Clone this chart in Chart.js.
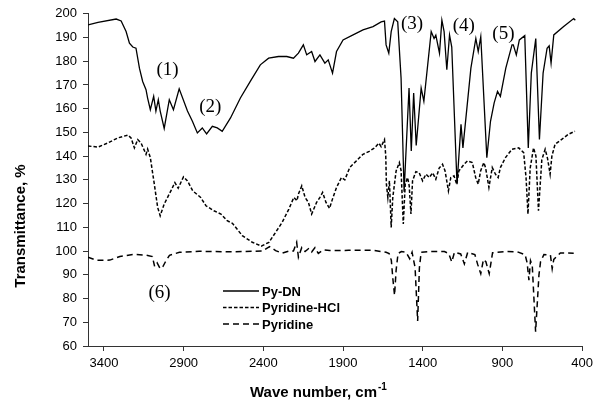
<!DOCTYPE html>
<html lang="en">
<head>
<meta charset="UTF-8" />
<title>IR spectra - Py-DN, Pyridine-HCl, Pyridine</title>
<script src="https://cdn.jsdelivr.net/npm/chart.js"></script>
<style>
  html, body { margin: 0; padding: 0; background: #fff; }
  #chart { display: block; }
</style>
</head>
<body>
<canvas id="chart" width="598" height="403"></canvas>
<script>
// wave numbers (cm-1) and transmittance (%)
const pyDnWn = [3500, 3437, 3323, 3292, 3261, 3240, 3219, 3199, 3177, 3157, 3136, 3126, 3109, 3088, 3074, 3059, 3047, 3022, 2990, 2964, 2928, 2876, 2845, 2814, 2783, 2756, 2720, 2689, 2658, 2606, 2544, 2482, 2419, 2367, 2305, 2253, 2211, 2180, 2149, 2128, 2097, 2076, 2045, 2014, 1993, 1966, 1941, 1900, 1837, 1775, 1712, 1661, 1640, 1630, 1613, 1598, 1578, 1557, 1536, 1517, 1486, 1472, 1457, 1441, 1410, 1393, 1347, 1329, 1318, 1295, 1280, 1266, 1249, 1232, 1218, 1185, 1160, 1148, 1098, 1067, 1052, 1036, 998, 975, 952, 931, 913, 879, 840, 832, 813, 794, 760, 738, 719, 691, 668, 645, 620, 607, 595, 578, 516, 453, 443];
const pyDnT = [195.3, 196.4, 197.8, 197, 192.5, 187.6, 186, 185.5, 177, 171.5, 168, 164.5, 159.6, 165.2, 159, 163.8, 159, 151.7, 163.8, 159.6, 168.4, 159, 154.7, 149.8, 151.9, 149.4, 152.6, 151.9, 150.5, 156.1, 164.5, 171.5, 178.5, 181.3, 182, 182, 181.3, 183.4, 186.9, 182.7, 184.1, 179.9, 182.7, 179.2, 180.6, 175, 184.1, 189, 191.1, 193.2, 194.6, 196.6, 196.9, 186.9, 183.4, 192.5, 198, 196.6, 172.9, 125, 168.7, 142.2, 166.6, 144.5, 168.7, 163.1, 192.5, 189.6, 191, 183.4, 197.3, 192.5, 176.4, 191.1, 186, 128.2, 153.4, 143.5, 177.1, 189.6, 184.1, 190.4, 139.4, 154.7, 162.5, 167.3, 165.2, 177.1, 186.9, 186.9, 182.7, 189, 190.8, 143.5, 175, 189.6, 147, 175, 185.5, 186.5, 179.2, 191.1, 194.6, 198, 197.3];

const hclWn = [3500, 3437, 3375, 3313, 3250, 3230, 3209, 3188, 3167, 3136, 3126, 3109, 3084, 3063, 3047, 3022, 2980, 2955, 2934, 2901, 2876, 2843, 2793, 2760, 2710, 2666, 2627, 2594, 2532, 2469, 2413, 2365, 2323, 2282, 2240, 2209, 2189, 2180, 2159, 2138, 2117, 2097, 2066, 2045, 2028, 2007, 1985, 1966, 1941, 1910, 1889, 1858, 1817, 1775, 1736, 1702, 1675, 1661, 1640, 1632, 1628, 1619, 1609, 1598, 1588, 1567, 1547, 1536, 1522, 1510, 1495, 1485, 1474, 1464, 1443, 1422, 1401, 1380, 1359, 1338, 1318, 1297, 1276, 1260, 1239, 1224, 1204, 1187, 1173, 1141, 1120, 1089, 1068, 1052, 1037, 1017, 1006, 985, 964, 944, 927, 913, 881, 840, 798, 767, 752, 740, 726, 705, 690, 674, 653, 632, 617, 601, 590, 570, 528, 487, 445];
const hclT = [144.3, 143.8, 145.6, 147.7, 148.9, 147.7, 143.5, 147, 145.5, 140.8, 143, 139.4, 128.2, 118.4, 114.9, 119.8, 125.4, 128.9, 126.5, 131.3, 129.6, 125.4, 122.6, 119.1, 117, 115.6, 112.8, 111.7, 106.5, 103.7, 102.1, 103.7, 107.9, 112.1, 117.7, 122.6, 121.2, 124, 127.5, 122.6, 120.5, 115.6, 120.5, 122.6, 124.7, 120.5, 118, 122, 126.8, 131, 130, 135.2, 138, 140.8, 142, 143.5, 145.5, 144, 147, 140, 128.2, 122.6, 129.6, 110, 122.6, 133.8, 137.3, 134, 111.4, 128.2, 131, 127.5, 115.6, 129.6, 133.5, 133, 129.6, 132.4, 131, 133, 130.3, 135, 136.6, 133.8, 125.4, 131, 131.7, 128.2, 133.8, 136.6, 138, 137.3, 131, 128.2, 133.8, 137.3, 135.2, 126.8, 135.2, 132.4, 131, 135.2, 139.4, 142.9, 143.5, 141.5, 131, 115.6, 135, 143.5, 140, 117, 138.5, 142.9, 139, 132.4, 140, 145, 147.1, 149.2, 150.5];

const pyWn = [3500, 3446, 3363, 3300, 3217, 3134, 3096, 3082, 3066, 3047, 3030, 3015, 2989, 2926, 2802, 2596, 2407, 2361, 2323, 2282, 2240, 2211, 2191, 2180, 2159, 2138, 2117, 2097, 2076, 2055, 2024, 1983, 1866, 1711, 1630, 1611, 1597, 1587, 1577, 1567, 1555, 1534, 1505, 1482, 1467, 1448, 1432, 1421, 1410, 1349, 1264, 1237, 1218, 1201, 1162, 1139, 1118, 1073, 1056, 1036, 1019, 1004, 983, 962, 869, 807, 758, 745, 734, 724, 713, 692, 671, 661, 640, 599, 588, 578, 537, 453];
const pyT = [97.4, 96.1, 96.2, 97.7, 98.6, 98.3, 97.7, 93.5, 95, 92.6, 93.5, 95.4, 98.2, 99.5, 99.9, 99.7, 100, 101.9, 100.2, 99.1, 100, 100, 103.7, 97.4, 101.5, 99.8, 101, 99.6, 101.5, 99, 100.5, 100.2, 100.3, 100.3, 99.5, 99, 96.1, 88, 81.4, 92, 99, 99.8, 99.5, 96.8, 99.5, 93, 70.5, 93, 99.5, 99.8, 99.8, 99, 95.4, 99.5, 98.8, 94.6, 99.5, 98.5, 94.5, 90.5, 96.5, 95.5, 90.5, 99.3, 99.8, 99.7, 98.5, 95, 87.7, 96, 94, 66, 90, 95.5, 98.5, 98.3, 92.6, 96.5, 99.2, 99.1];

const seriesNames = ['Py-DN', 'Pyridine-HCl', 'Pyridine'];
const xTickValues = [3400, 2900, 2400, 1900, 1400, 900, 400];

// band labels: text, wave number, transmittance of the label centre
const bandText = ['(1)', '(2)', '(3)', '(4)', '(5)', '(6)'];
const bandWn = [3001, 2733, 1467, 1143, 894, 3051];
const bandT = [176.1, 160.6, 195.8, 195, 191.6, 82.2];

const toPoints = (wn, t) => wn.map((x, i) => ({ x: x, y: t[i] }));

const SANS = '"Liberation Sans", Arial, sans-serif';
const SERIF = '"Liberation Serif", "Times New Roman", serif';

const overlay = {
  id: 'overlay',
  afterDraw(chart) {
    const ctx = chart.ctx;
    const xs = chart.scales.x, ys = chart.scales.y;
    ctx.save();
    ctx.fillStyle = '#000';

    // band labels
    ctx.font = '19px ' + SERIF;
    ctx.textAlign = 'center';
    ctx.textBaseline = 'middle';
    bandText.forEach((t, i) => {
      ctx.fillText(t, xs.getPixelForValue(bandWn[i]), ys.getPixelForValue(bandT[i]));
    });

    // legend
    ctx.font = 'bold 13px ' + SANS;
    ctx.textAlign = 'left';
    chart.data.datasets.forEach((ds, i) => {
      const y = 291 + i * 16.5;
      ctx.strokeStyle = ds.borderColor;
      ctx.lineWidth = ds.borderWidth;
      ctx.setLineDash(ds.borderDash || []);
      ctx.beginPath();
      ctx.moveTo(223, y);
      ctx.lineTo(259, y);
      ctx.stroke();
      ctx.fillText(ds.label, 262, y + 1);
    });
    ctx.setLineDash([]);

    // x title with superscript
    ctx.font = 'bold 15px ' + SANS;
    ctx.textBaseline = 'alphabetic';
    const main = 'Wave number, cm';
    ctx.fillText(main, 250, 397);
    const w = ctx.measureText(main).width;
    ctx.font = 'bold 10px ' + SANS;
    ctx.fillText('-1', 250 + w + 1, 390);

    // y title
    ctx.translate(21, 226);
    ctx.rotate(-Math.PI / 2);
    ctx.font = 'bold 15px ' + SANS;
    ctx.textAlign = 'center';
    ctx.textBaseline = 'middle';
    ctx.fillText('Transmittance, %', 0, 0);
    ctx.restore();
  }
};

new Chart(document.getElementById('chart'), {
  type: 'line',
  data: {
    datasets: [
      { label: seriesNames[0], data: toPoints(pyDnWn, pyDnT), borderColor: '#000', borderWidth: 1.3 },
      { label: seriesNames[1], data: toPoints(hclWn, hclT), borderColor: '#000', borderWidth: 1.5, borderDash: [3.5, 2] },
      { label: seriesNames[2], data: toPoints(pyWn, pyT), borderColor: '#000', borderWidth: 1.5, borderDash: [6, 4] }
    ]
  },
  options: {
    responsive: false,
    animation: false,
    elements: { point: { radius: 0 }, line: { tension: 0, fill: false } },
    layout: { padding: { top: 12, right: 12, left: 0, bottom: 0 } },
    plugins: { legend: { display: false }, tooltip: { enabled: false } },
    scales: {
      x: {
        type: 'linear',
        reverse: true,
        min: 400,
        max: 3500,
        afterBuildTicks: s => { s.ticks = xTickValues.map(v => ({ value: v })); },
        afterFit: s => { s.height = 57; },
        border: { color: '#333', width: 1 },
        grid: { display: true, drawOnChartArea: false, tickLength: 5, color: '#333' },
        ticks: { color: '#000', font: { family: SANS, size: 13 }, padding: 5, maxRotation: 0, autoSkip: false, callback: v => String(v) }
      },
      y: {
        min: 60,
        max: 200,
        afterFit: s => { s.width = 88; },
        border: { color: '#333', width: 1 },
        grid: { display: true, drawOnChartArea: false, tickLength: 5, color: '#333' },
        ticks: { stepSize: 10, color: '#000', font: { family: SANS, size: 13 }, padding: 6 }
      }
    }
  },
  plugins: [overlay]
});
</script>
</body>
</html>
